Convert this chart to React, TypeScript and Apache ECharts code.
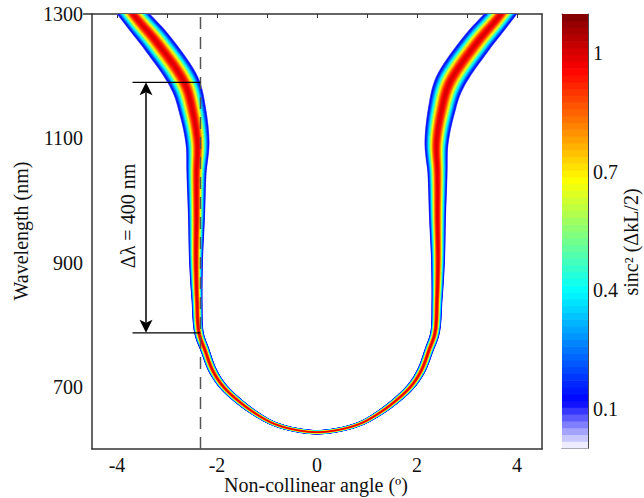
import React, { useEffect, useRef } from 'react';
import * as echarts from 'echarts';

// ---- axes / ticks ----
const angleLabels = [-4, -2, 0, 2, 4];
const angleTicks = [-4, -3, -2, -1, 0, 1, 2, 3, 4];
const wavelengthLabels = [700, 900, 1100, 1300];
const colorbarLabels = [0.1, 0.4, 0.7, 1];
const colorbarTicks = [0.2, 0.4, 0.6, 0.8, 1.0];

// ---- phase-matching centre line (left branch, top -> bottom) ----
const pmWavelength = [1335, 1295, 1253, 1189, 1145, 1092, 1044, 974, 904, 840, 787, 759, 727, 701, 674, 653, 641, 632, 627];
const pmAngle = [-4.0, -3.63, -3.19, -2.65, -2.49, -2.39, -2.41, -2.41, -2.42, -2.40, -2.36, -2.24, -2.09, -1.88, -1.52, -1.15, -0.87, -0.5, 0];
// full visible band width across the curve (in degrees of angle)
const pmWidth = [0.52, 0.52, 0.58, 0.6, 0.55, 0.48, 0.4, 0.34, 0.28, 0.22, 0.19, 0.18, 0.17, 0.15, 0.13, 0.11, 0.095, 0.09, 0.09];

// ---- annotations ----
const dashAngle = -2.33;
const markWavelengths = [1190, 787];
const markStartAngle = -3.69;
const arrowAngle = -3.42;

// ---- colour map ----
const MAX_VALUE = 1.1;
const N_BINS = 64;
const BIN = MAX_VALUE / N_BINS;
const FIRST_LEVEL = 4;

const clamp = (x: number) => Math.max(0, Math.min(1, x));
function binColor(k: number): string {
  const v = (k + 0.5) * BIN;
  let r: number, g: number, b: number;
  if (v < 0.12) {
    const t = v / 0.12;
    r = 1 - t; g = 1 - t; b = 1;
  } else {
    const p = (v + 0.02) / 1.12;
    r = clamp(1.5 - Math.abs(4 * p - 3));
    g = clamp(1.5 - Math.abs(4 * p - 2));
    b = clamp(1.5 - Math.abs(4 * p - 1));
  }
  return `rgb(${Math.round(r * 255)},${Math.round(g * 255)},${Math.round(b * 255)})`;
}
function sincSq(u: number) { return u === 0 ? 1 : Math.pow(Math.sin(u) / u, 2); }
function sincInv(c: number) {
  let lo = 0, hi = Math.PI;
  for (let i = 0; i < 40; i++) {
    const m = (lo + hi) / 2;
    if (sincSq(m) > c) lo = m; else hi = m;
  }
  return (lo + hi) / 2;
}
const U_EDGE = sincInv(FIRST_LEVEL * BIN);

const levels: number[][] = [];
for (let k = FIRST_LEVEL; k * BIN <= 1.0; k++) levels.push([k]);
const bins: number[][] = [];
for (let k = 0; k < N_BINS; k++) bins.push([k]);

function fullCurve() {
  const a: number[] = [], l: number[] = [], w: number[] = [];
  for (let i = 0; i < pmAngle.length; i++) { a.push(pmAngle[i]); l.push(pmWavelength[i]); w.push(pmWidth[i]); }
  for (let i = pmAngle.length - 2; i >= 0; i--) { a.push(-pmAngle[i]); l.push(pmWavelength[i]); w.push(pmWidth[i]); }
  return { a, l, w };
}

// centripetal Catmull-Rom rendering of a pixel polyline (x, y, width)
function smoothPath(P: number[][], steps: number): number[][] {
  const n = P.length;
  const get = (i: number) => {
    if (i < 0) return P[0].map((v, d) => 2 * v - P[1][d]);
    if (i >= n) return P[n - 1].map((v, d) => 2 * v - P[n - 2][d]);
    return P[i];
  };
  const dist = (a: number[], b: number[]) => Math.pow(Math.hypot(a[0] - b[0], a[1] - b[1]) || 1e-6, 0.5);
  const out: number[][] = [];
  for (let i = 0; i < n - 1; i++) {
    const p0 = get(i - 1), p1 = get(i), p2 = get(i + 1), p3 = get(i + 2);
    const t0 = 0, t1 = t0 + dist(p0, p1), t2 = t1 + dist(p1, p2), t3 = t2 + dist(p2, p3);
    for (let s = 0; s < steps; s++) {
      const t = t1 + ((t2 - t1) * s) / steps;
      const lerp = (a: number[], b: number[], ta: number, tb: number) => a.map((v, d) => ((tb - t) * v + (t - ta) * b[d]) / (tb - ta));
      const A1 = lerp(p0, p1, t0, t1), A2 = lerp(p1, p2, t1, t2), A3 = lerp(p2, p3, t2, t3);
      const B1 = lerp(A1, A2, t0, t2), B2 = lerp(A2, A3, t1, t3);
      const C = lerp(B1, B2, t1, t2);
      const f = s / steps;
      C[2] = p1[2] + (p2[2] - p1[2]) * f;
      out.push(C);
    }
  }
  out.push(P[n - 1]);
  return out;
}

const FONT = 'Liberation Serif';
const FONT_FAMILY = '"Liberation Serif", "Times New Roman", serif';
const TXT = '#111';
const AXC = '#333';

export default function App() {
  const ref = useRef<HTMLDivElement>(null);
  useEffect(() => {
    if (!ref.current) return;
    const chart = echarts.init(ref.current, null, { renderer: 'svg' });
    const curve = fullCurve();

    const bandRender = (params: any, api: any) => {
      const k = api.value(0);
      const frac = sincInv(k * BIN) / U_EDGE;
      const raw = curve.a.map((ang, i) => {
        const c = api.coord([ang, curve.l[i]]);
        return [c[0], c[1], api.size([curve.w[i], 0])[0]];
      });
      const pts = smoothPath(raw, 10);
      const left: number[][] = [], right: number[][] = [];
      for (let i = 0; i < pts.length; i++) {
        const p0 = pts[Math.max(0, i - 1)], p1 = pts[Math.min(pts.length - 1, i + 1)];
        let tx = p1[0] - p0[0], ty = p1[1] - p0[1];
        const n = Math.hypot(tx, ty) || 1; tx /= n; ty /= n;
        const nx = -ty, ny = tx;
        const hw = (pts[i][2] / 2) * frac;
        left.push([pts[i][0] + nx * hw, pts[i][1] + ny * hw]);
        right.push([pts[i][0] - nx * hw, pts[i][1] - ny * hw]);
      }
      const points = left.concat(right.reverse());
      return { type: 'polygon', shape: { points }, style: { fill: binColor(k) } };
    };

    const cbRender = (params: any, api: any) => {
      const k = api.value(0);
      const p0 = api.coord([0, k * BIN]);
      const p1 = api.coord([1, (k + 1) * BIN]);
      return { type: 'rect', shape: { x: p0[0], y: p1[1], width: p1[0] - p0[0], height: p0[1] - p1[1] + 0.6 }, style: { fill: binColor(k) } };
    };

    const arrowRender = (params: any, api: any) => {
      const x = api.value(0);
      const top = api.coord([x, api.value(1)]);
      const bot = api.coord([x, api.value(2)]);
      const L = 13, HW = 6.5, N = 3;
      return {
        type: 'group', children: [
          { type: 'line', shape: { x1: top[0], y1: top[1] + L - N, x2: bot[0], y2: bot[1] - L + N }, style: { stroke: '#000', lineWidth: 1.5 } },
          { type: 'polygon', shape: { points: [[top[0], top[1]], [top[0] + HW, top[1] + L], [top[0], top[1] + L - N], [top[0] - HW, top[1] + L]] }, style: { fill: '#000' } },
          { type: 'polygon', shape: { points: [[bot[0], bot[1]], [bot[0] + HW, bot[1] - L], [bot[0], bot[1] - L + N], [bot[0] - HW, bot[1] - L]] }, style: { fill: '#000' } },
        ],
      };
    };

    const fmt = (v: number) => String(v);
    const labelStyle = { fontFamily: FONT_FAMILY, fontSize: 20, color: TXT, formatter: fmt };
    const lineStyle = { color: AXC, width: 1.5 };

    const option: any = {
      animation: false,
      backgroundColor: '#fff',
      textStyle: { fontFamily: FONT_FAMILY },
      grid: [
        { left: 92, top: 14, width: 450, height: 435, outerBoundsMode: 'none' },
        { left: 562, top: 14, width: 26, height: 434, outerBoundsMode: 'none' },
      ],
      xAxis: [
        { gridIndex: 0, type: 'value', position: 'bottom', min: -4.5, max: 4.5, axisLine: { show: true, onZero: false, lineStyle }, axisTick: { show: false }, splitLine: { show: false }, axisLabel: { ...labelStyle, margin: 6, customValues: angleLabels } },
        { gridIndex: 0, type: 'value', position: 'top', min: -4.5, max: 4.5, axisLine: { show: true, onZero: false, lineStyle }, axisTick: { show: true, inside: true, length: 4, customValues: angleTicks, lineStyle: { color: AXC, width: 1 } }, splitLine: { show: false }, axisLabel: { show: false } },
        { gridIndex: 1, type: 'value', position: 'bottom', min: 0, max: 1, axisLine: { show: true, onZero: false, lineStyle: { color: '#444', width: 1 } }, axisTick: { show: false }, splitLine: { show: false }, axisLabel: { show: false } },
        { gridIndex: 1, type: 'value', position: 'top', min: 0, max: 1, axisLine: { show: true, onZero: false, lineStyle: { color: '#444', width: 1 } }, axisTick: { show: false }, splitLine: { show: false }, axisLabel: { show: false } },
      ],
      yAxis: [
        { gridIndex: 0, type: 'value', position: 'left', min: 600, max: 1300, axisLine: { show: true, onZero: false, lineStyle }, axisTick: { show: true, inside: false, length: 9, customValues: [1300], lineStyle: { color: AXC, width: 1.5 } }, splitLine: { show: false }, axisLabel: { ...labelStyle, margin: 9, customValues: wavelengthLabels } },
        { gridIndex: 0, type: 'value', position: 'right', min: 600, max: 1300, axisLine: { show: true, onZero: false, lineStyle }, axisTick: { show: false }, splitLine: { show: false }, axisLabel: { show: false } },
        { gridIndex: 1, type: 'value', position: 'left', min: 0, max: MAX_VALUE, axisLine: { show: true, onZero: false, lineStyle: { color: '#444', width: 1 } }, axisTick: { show: true, inside: true, length: 4, customValues: colorbarTicks, lineStyle: { color: '#444' } }, splitLine: { show: false }, axisLabel: { show: false } },
        { gridIndex: 1, type: 'value', position: 'right', min: 0, max: MAX_VALUE, axisLine: { show: true, onZero: false, lineStyle: { color: '#444', width: 1 } }, axisTick: { show: true, inside: true, length: 4, customValues: colorbarTicks, lineStyle: { color: '#444' } }, splitLine: { show: false }, axisLabel: { ...labelStyle, margin: 5, customValues: colorbarLabels } },
      ],
      series: [
        { type: 'custom', xAxisIndex: 0, yAxisIndex: 0, data: levels, renderItem: bandRender, clip: true, silent: true, z: 1 },
        { type: 'custom', xAxisIndex: 2, yAxisIndex: 2, data: bins, renderItem: cbRender, silent: true, z: 1 },
        { type: 'line', xAxisIndex: 0, yAxisIndex: 0, data: [[dashAngle, 600], [dashAngle, 1300]], symbol: 'none', silent: true, lineStyle: { color: '#555', width: 1.5, type: [12, 8] }, z: 3 },
        ...markWavelengths.map((wl) => ({ type: 'line', xAxisIndex: 0, yAxisIndex: 0, data: [[markStartAngle, wl], [dashAngle, wl]], symbol: 'none', silent: true, lineStyle: { color: '#000', width: 1.2 }, z: 3 })),
        { type: 'custom', xAxisIndex: 0, yAxisIndex: 0, data: [[arrowAngle, markWavelengths[0], markWavelengths[1]]], renderItem: arrowRender, silent: true, z: 4 },
      ],
      graphic: [
        { type: 'text', x: 21, y: 231, rotation: Math.PI / 2, style: { text: 'Wavelength (nm)', font: `20px "${FONT}"`, fill: TXT, align: 'center', verticalAlign: 'middle' } },
        { type: 'text', x: 316, y: 485, style: { text: 'Non-collinear angle (º)', font: `20px "${FONT}"`, fill: TXT, align: 'center', verticalAlign: 'middle' } },
        { type: 'text', x: 631, y: 242, rotation: Math.PI / 2, style: { text: 'sinc² (ΔkL/2)', font: `20px "${FONT}"`, fill: TXT, align: 'center', verticalAlign: 'middle' } },
        { type: 'text', x: 128, y: 216, rotation: Math.PI / 2, style: { text: 'Δλ = 400 nm', font: `20px "${FONT}"`, fill: TXT, align: 'center', verticalAlign: 'middle' } },
      ],
    };
    chart.setOption(option);
    return () => chart.dispose();
  }, []);
  return <div ref={ref} style={{ position: 'absolute', left: 0, top: 0, width: 644, height: 498 }} />;
}
